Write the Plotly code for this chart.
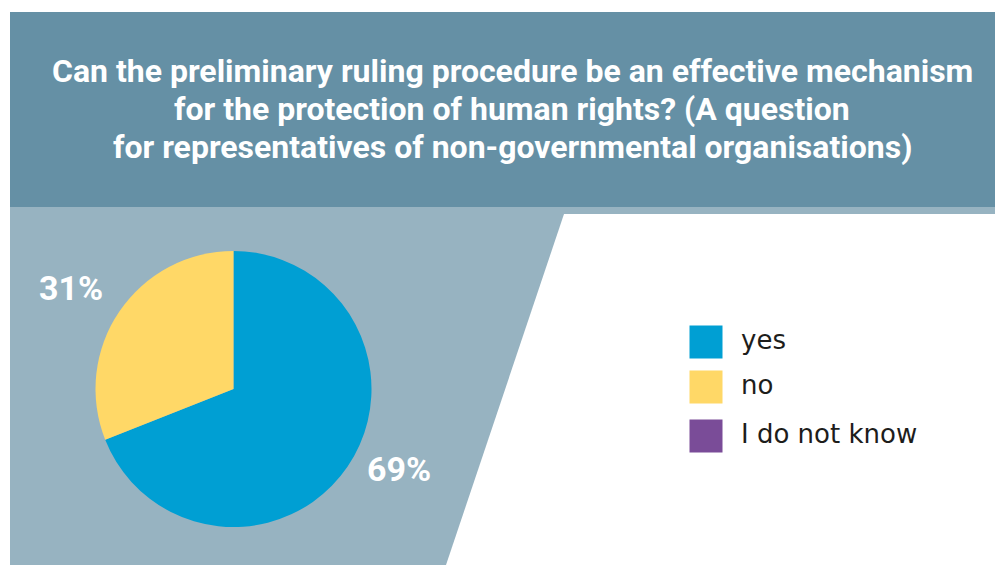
import plotly.graph_objects as go

# Survey answers (percent of respondents)
categories = ["yes", "no", "I do not know"]
shares = [69, 31, 0]
colors = ["#009FD3", "#FFD867", "#7A4C98"]

title_lines = [
    "Can the preliminary ruling procedure be an effective mechanism",
    "for the protection of human rights? (A question",
    "for representatives of non-governmental organisations)",
]

W, H = 995, 565
HEADER = "#6590A5"
PANEL = "#97B3C1"
FONT = "Roboto, 'Open Sans', sans-serif"

fig = go.Figure()

# pie
fig.add_trace(go.Pie(
    labels=categories,
    values=shares,
    sort=False,
    direction="clockwise",
    rotation=0,
    marker=dict(colors=colors, line=dict(width=0)),
    textinfo="none",
    hoverinfo="label+percent",
    showlegend=False,
    domain=dict(x=[95 / W, 372 / W], y=[1 - 527 / H, 1 - 251 / H]),
))

# legend swatches and labels drawn on a hidden pixel-scaled axis
leg_y = [342, 387, 436]
fig.add_trace(go.Scatter(
    x=[706] * 3, y=leg_y, mode="markers",
    marker=dict(symbol="square", size=33, color=colors, line=dict(width=0)),
    hoverinfo="skip", showlegend=False,
))
fig.add_trace(go.Scatter(
    x=[741] * 3, y=leg_y, mode="text", text=categories,
    textposition="middle right",
    textfont=dict(family="'DejaVu Sans', sans-serif", size=26, color="#1d1d1b"),
    hoverinfo="skip", showlegend=False,
))

# backgrounds: header band, thin strip, slanted panel
shapes = [
    dict(type="rect", x0=10, x1=W, y0=12, y1=207, fillcolor=HEADER),
    dict(type="rect", x0=10, x1=W, y0=207, y1=214, fillcolor=PANEL),
    dict(type="path", path=f"M10,207 L564,207 L564,214 L446,{H} L10,{H} Z", fillcolor=PANEL),
]
for s in shapes:
    s.update(xref="x", yref="y", layer="below", line=dict(width=0))

# header title
annotations = []
for i, line in enumerate(title_lines):
    annotations.append(dict(
        x=512, y=71 + 38 * i, xref="x", yref="y", text=f"<b>{line}</b>",
        showarrow=False, xanchor="center", yanchor="middle",
        font=dict(family=FONT, size=32, color="white"),
    ))

# percentage labels
label_pos = {"yes": (399, 469), "no": (71, 288)}
for cat, val in zip(categories, shares):
    if cat in label_pos:
        lx, ly = label_pos[cat]
        annotations.append(dict(
            x=lx, y=ly, xref="x", yref="y", text=f"<b>{val}%</b>",
            showarrow=False, xanchor="center", yanchor="middle",
            font=dict(family=FONT, size=34, color="white"),
        ))

fig.update_layout(
    width=W, height=H,
    margin=dict(l=0, r=0, t=0, b=0),
    paper_bgcolor="white", plot_bgcolor="rgba(0,0,0,0)",
    xaxis=dict(range=[0, W], visible=False, fixedrange=True),
    yaxis=dict(range=[H, 0], visible=False, fixedrange=True),
    shapes=shapes,
    annotations=annotations,
    showlegend=False,
)

fig.write_html("out.html")
